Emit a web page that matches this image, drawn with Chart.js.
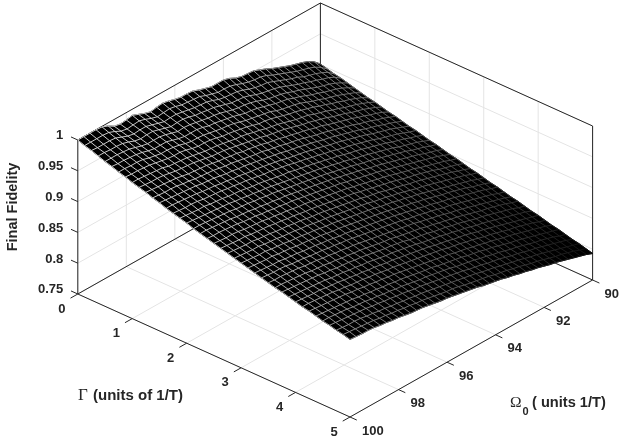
<!DOCTYPE html>
<html><head><meta charset="utf-8">
<style>html,body{margin:0;padding:0;background:#fff}canvas{display:block}</style>
<script src="https://cdn.jsdelivr.net/npm/chart.js@4"></script></head>
<body><canvas id="c" width="623" height="439"></canvas>
<script>
const gammaTicks=[0,1,2,3,4,5];
const omegaTicks=[100,98,96,94,92,90];
const fidelityTicks=[0.75,0.8,0.85,0.9,0.95,1];
const fidelityTickLabels=['0.75','0.8','0.85','0.9','0.95','1'];
const gammaGrid=[0,0.125,0.25,0.375,0.5,0.625,0.75,0.875,1,1.125,1.25,1.375,1.5,1.625,1.75,1.875,2,2.125,2.25,2.375,2.5,2.625,2.75,2.875,3,3.125,3.25,3.375,3.5,3.625,3.75,3.875,4,4.125,4.25,4.375,4.5,4.625,4.75,4.875,5];
const omegaGrid=[100,99.75,99.5,99.25,99,98.75,98.5,98.25,98,97.75,97.5,97.25,97,96.75,96.5,96.25,96,95.75,95.5,95.25,95,94.75,94.5,94.25,94,93.75,93.5,93.25,93,92.75,92.5,92.25,92,91.75,91.5,91.25,91,90.75,90.5,90.25,90];
// final fidelity: one row per gammaGrid value, one column per omegaGrid value
const fidelity=[
[1,1,1,1,0.999,0.995,0.989,0.987,0.988,0.990,0.986,0.982,0.979,0.981,0.982,0.980,0.977,0.975,0.975,0.974,0.970,0.967,0.964,0.964,0.964,0.961,0.956,0.953,0.952,0.951,0.947,0.943,0.938,0.934,0.930,0.926,0.923,0.920,0.916,0.910,0.901],
[0.996,0.996,0.996,0.996,0.995,0.991,0.986,0.984,0.985,0.986,0.983,0.979,0.976,0.977,0.978,0.976,0.973,0.972,0.971,0.970,0.966,0.963,0.960,0.960,0.959,0.956,0.952,0.949,0.947,0.946,0.943,0.938,0.934,0.930,0.926,0.922,0.919,0.916,0.912,0.906,0.898],
[0.993,0.992,0.992,0.992,0.991,0.987,0.983,0.981,0.982,0.982,0.979,0.976,0.973,0.974,0.974,0.972,0.970,0.968,0.967,0.966,0.963,0.959,0.957,0.956,0.955,0.952,0.948,0.945,0.943,0.942,0.938,0.934,0.930,0.926,0.923,0.918,0.915,0.912,0.908,0.903,0.895],
[0.989,0.989,0.988,0.988,0.987,0.984,0.980,0.978,0.979,0.979,0.976,0.973,0.970,0.971,0.971,0.969,0.966,0.965,0.963,0.962,0.959,0.956,0.953,0.952,0.951,0.948,0.944,0.941,0.939,0.937,0.934,0.930,0.926,0.922,0.919,0.915,0.912,0.908,0.905,0.900,0.893],
[0.985,0.985,0.985,0.984,0.983,0.980,0.977,0.975,0.975,0.975,0.973,0.970,0.967,0.968,0.967,0.965,0.963,0.961,0.960,0.958,0.955,0.952,0.950,0.949,0.947,0.944,0.940,0.937,0.935,0.933,0.930,0.926,0.923,0.919,0.915,0.911,0.908,0.905,0.901,0.896,0.890],
[0.982,0.981,0.981,0.980,0.979,0.977,0.974,0.972,0.972,0.972,0.969,0.966,0.964,0.964,0.964,0.962,0.959,0.958,0.956,0.954,0.952,0.949,0.946,0.945,0.943,0.940,0.937,0.934,0.932,0.930,0.926,0.923,0.919,0.915,0.912,0.908,0.905,0.902,0.898,0.893,0.887],
[0.978,0.978,0.977,0.977,0.976,0.973,0.971,0.969,0.969,0.968,0.966,0.963,0.961,0.961,0.960,0.958,0.956,0.954,0.953,0.951,0.948,0.945,0.943,0.941,0.939,0.937,0.933,0.930,0.928,0.926,0.923,0.919,0.915,0.912,0.908,0.905,0.902,0.898,0.894,0.890,0.884],
[0.975,0.974,0.974,0.973,0.972,0.970,0.968,0.966,0.965,0.965,0.963,0.960,0.958,0.958,0.957,0.955,0.952,0.951,0.949,0.947,0.945,0.942,0.939,0.938,0.936,0.933,0.930,0.927,0.925,0.922,0.919,0.916,0.912,0.909,0.905,0.902,0.898,0.895,0.891,0.887,0.881],
[0.971,0.971,0.970,0.969,0.968,0.967,0.964,0.963,0.962,0.961,0.959,0.957,0.955,0.954,0.953,0.951,0.949,0.947,0.946,0.944,0.941,0.939,0.936,0.934,0.932,0.929,0.926,0.923,0.921,0.919,0.915,0.912,0.909,0.905,0.902,0.898,0.895,0.892,0.888,0.884,0.879],
[0.968,0.967,0.966,0.966,0.965,0.963,0.961,0.960,0.959,0.958,0.956,0.954,0.952,0.951,0.950,0.948,0.946,0.944,0.942,0.940,0.938,0.935,0.933,0.931,0.929,0.926,0.923,0.920,0.918,0.915,0.912,0.909,0.905,0.902,0.899,0.895,0.892,0.889,0.885,0.881,0.876],
[0.965,0.964,0.963,0.962,0.961,0.960,0.958,0.956,0.955,0.954,0.953,0.951,0.949,0.948,0.946,0.945,0.942,0.941,0.939,0.937,0.934,0.932,0.930,0.927,0.925,0.922,0.920,0.917,0.914,0.912,0.908,0.905,0.902,0.899,0.896,0.892,0.889,0.885,0.882,0.878,0.873],
[0.961,0.960,0.959,0.959,0.958,0.956,0.955,0.953,0.952,0.951,0.950,0.948,0.946,0.945,0.943,0.941,0.939,0.937,0.936,0.933,0.931,0.929,0.926,0.924,0.922,0.919,0.916,0.913,0.911,0.908,0.905,0.902,0.899,0.896,0.892,0.889,0.886,0.882,0.879,0.875,0.871],
[0.958,0.957,0.956,0.955,0.954,0.953,0.952,0.950,0.949,0.948,0.946,0.944,0.943,0.941,0.940,0.938,0.936,0.934,0.932,0.930,0.928,0.925,0.923,0.921,0.918,0.916,0.913,0.910,0.908,0.905,0.902,0.899,0.896,0.893,0.889,0.886,0.883,0.879,0.876,0.872,0.868],
[0.954,0.954,0.953,0.952,0.951,0.950,0.948,0.947,0.946,0.944,0.943,0.941,0.940,0.938,0.936,0.935,0.933,0.931,0.929,0.927,0.924,0.922,0.920,0.918,0.915,0.913,0.910,0.907,0.905,0.902,0.899,0.896,0.893,0.890,0.886,0.883,0.880,0.877,0.873,0.869,0.865],
[0.951,0.950,0.949,0.949,0.948,0.946,0.945,0.944,0.943,0.941,0.940,0.938,0.937,0.935,0.933,0.931,0.930,0.928,0.926,0.924,0.921,0.919,0.917,0.914,0.912,0.909,0.907,0.904,0.901,0.899,0.896,0.893,0.890,0.887,0.883,0.880,0.877,0.874,0.870,0.866,0.863],
[0.948,0.947,0.946,0.945,0.945,0.943,0.942,0.941,0.939,0.938,0.937,0.935,0.933,0.932,0.930,0.928,0.926,0.924,0.923,0.920,0.918,0.916,0.914,0.911,0.909,0.906,0.904,0.901,0.898,0.896,0.893,0.890,0.887,0.884,0.881,0.877,0.874,0.871,0.867,0.864,0.860],
[0.945,0.944,0.943,0.942,0.941,0.940,0.939,0.938,0.936,0.935,0.933,0.932,0.930,0.929,0.927,0.925,0.923,0.921,0.919,0.917,0.915,0.913,0.911,0.908,0.906,0.903,0.901,0.898,0.895,0.893,0.890,0.887,0.884,0.881,0.878,0.874,0.871,0.868,0.865,0.861,0.857],
[0.941,0.941,0.940,0.939,0.938,0.937,0.936,0.934,0.933,0.932,0.930,0.929,0.927,0.926,0.924,0.922,0.920,0.918,0.916,0.914,0.912,0.910,0.908,0.905,0.903,0.900,0.898,0.895,0.892,0.890,0.887,0.884,0.881,0.878,0.875,0.872,0.868,0.865,0.862,0.858,0.855],
[0.938,0.938,0.937,0.936,0.935,0.934,0.932,0.931,0.930,0.928,0.927,0.925,0.924,0.922,0.921,0.919,0.917,0.915,0.913,0.911,0.909,0.907,0.905,0.902,0.900,0.897,0.895,0.892,0.889,0.887,0.884,0.881,0.878,0.875,0.872,0.869,0.866,0.862,0.859,0.856,0.852],
[0.935,0.934,0.934,0.933,0.932,0.931,0.929,0.928,0.927,0.925,0.924,0.922,0.921,0.919,0.918,0.916,0.914,0.912,0.910,0.908,0.906,0.904,0.902,0.899,0.897,0.894,0.892,0.889,0.887,0.884,0.881,0.878,0.875,0.872,0.869,0.866,0.863,0.860,0.857,0.853,0.849],
[0.932,0.931,0.930,0.930,0.929,0.927,0.926,0.925,0.924,0.922,0.921,0.919,0.918,0.916,0.914,0.913,0.911,0.909,0.907,0.905,0.903,0.901,0.899,0.896,0.894,0.891,0.889,0.886,0.884,0.881,0.878,0.875,0.872,0.870,0.866,0.863,0.860,0.857,0.854,0.850,0.847],
[0.929,0.928,0.927,0.926,0.926,0.924,0.923,0.922,0.921,0.919,0.918,0.916,0.915,0.913,0.911,0.910,0.908,0.906,0.904,0.902,0.900,0.898,0.896,0.893,0.891,0.888,0.886,0.883,0.881,0.878,0.875,0.872,0.870,0.867,0.864,0.861,0.857,0.854,0.851,0.848,0.844],
[0.926,0.925,0.924,0.923,0.923,0.921,0.920,0.919,0.917,0.916,0.915,0.913,0.912,0.910,0.908,0.907,0.905,0.903,0.901,0.899,0.897,0.895,0.893,0.890,0.888,0.886,0.883,0.880,0.878,0.875,0.872,0.870,0.867,0.864,0.861,0.858,0.855,0.852,0.848,0.845,0.841],
[0.923,0.922,0.921,0.920,0.920,0.918,0.917,0.916,0.914,0.913,0.912,0.910,0.909,0.907,0.905,0.904,0.902,0.900,0.898,0.896,0.894,0.892,0.890,0.887,0.885,0.883,0.880,0.878,0.875,0.872,0.869,0.867,0.864,0.861,0.858,0.855,0.852,0.849,0.846,0.842,0.839],
[0.920,0.919,0.918,0.917,0.917,0.915,0.914,0.913,0.911,0.910,0.909,0.907,0.906,0.904,0.902,0.901,0.899,0.897,0.895,0.893,0.891,0.889,0.887,0.884,0.882,0.880,0.877,0.875,0.872,0.870,0.867,0.864,0.861,0.858,0.855,0.852,0.849,0.846,0.843,0.839,0.836],
[0.917,0.916,0.915,0.914,0.914,0.912,0.911,0.910,0.908,0.907,0.906,0.904,0.903,0.901,0.899,0.898,0.896,0.894,0.892,0.890,0.888,0.886,0.884,0.882,0.879,0.877,0.874,0.872,0.869,0.867,0.864,0.861,0.858,0.856,0.853,0.850,0.847,0.843,0.840,0.837,0.833],
[0.914,0.913,0.912,0.911,0.911,0.909,0.908,0.907,0.905,0.904,0.903,0.901,0.900,0.898,0.896,0.895,0.893,0.891,0.889,0.887,0.885,0.883,0.881,0.879,0.876,0.874,0.871,0.869,0.866,0.864,0.861,0.858,0.856,0.853,0.850,0.847,0.844,0.841,0.838,0.834,0.831],
[0.911,0.910,0.909,0.909,0.908,0.906,0.905,0.904,0.902,0.901,0.900,0.898,0.897,0.895,0.894,0.892,0.890,0.888,0.886,0.884,0.882,0.880,0.878,0.876,0.873,0.871,0.869,0.866,0.864,0.861,0.858,0.856,0.853,0.850,0.847,0.844,0.841,0.838,0.835,0.831,0.828],
[0.908,0.907,0.907,0.906,0.905,0.904,0.902,0.901,0.900,0.898,0.897,0.895,0.894,0.892,0.891,0.889,0.887,0.885,0.883,0.881,0.879,0.877,0.875,0.873,0.871,0.868,0.866,0.863,0.861,0.858,0.855,0.853,0.850,0.847,0.844,0.841,0.838,0.835,0.832,0.829,0.825],
[0.905,0.905,0.904,0.903,0.902,0.901,0.899,0.898,0.897,0.895,0.894,0.892,0.891,0.889,0.888,0.886,0.884,0.882,0.880,0.879,0.876,0.874,0.872,0.870,0.868,0.865,0.863,0.860,0.858,0.855,0.853,0.850,0.847,0.844,0.841,0.839,0.836,0.833,0.830,0.826,0.823],
[0.903,0.902,0.901,0.900,0.899,0.898,0.897,0.895,0.894,0.892,0.891,0.890,0.888,0.887,0.885,0.883,0.881,0.879,0.878,0.876,0.874,0.871,0.869,0.867,0.865,0.862,0.860,0.858,0.855,0.853,0.850,0.847,0.844,0.842,0.839,0.836,0.833,0.830,0.827,0.823,0.820],
[0.900,0.899,0.898,0.897,0.896,0.895,0.894,0.892,0.891,0.890,0.888,0.887,0.885,0.884,0.882,0.880,0.878,0.877,0.875,0.873,0.871,0.869,0.866,0.864,0.862,0.860,0.857,0.855,0.852,0.850,0.847,0.844,0.842,0.839,0.836,0.833,0.830,0.827,0.824,0.821,0.817],
[0.897,0.896,0.895,0.894,0.894,0.892,0.891,0.890,0.888,0.887,0.885,0.884,0.882,0.881,0.879,0.877,0.876,0.874,0.872,0.870,0.868,0.866,0.864,0.861,0.859,0.857,0.854,0.852,0.850,0.847,0.844,0.842,0.839,0.836,0.833,0.830,0.827,0.824,0.821,0.818,0.815],
[0.894,0.894,0.893,0.892,0.891,0.890,0.888,0.887,0.885,0.884,0.883,0.881,0.880,0.878,0.876,0.875,0.873,0.871,0.869,0.867,0.865,0.863,0.861,0.859,0.856,0.854,0.852,0.849,0.847,0.844,0.841,0.839,0.836,0.833,0.830,0.828,0.825,0.822,0.819,0.815,0.812],
[0.892,0.891,0.890,0.889,0.888,0.887,0.886,0.884,0.883,0.881,0.880,0.878,0.877,0.875,0.874,0.872,0.870,0.868,0.866,0.864,0.862,0.860,0.858,0.856,0.853,0.851,0.849,0.846,0.844,0.841,0.839,0.836,0.833,0.831,0.828,0.825,0.822,0.819,0.816,0.813,0.809],
[0.889,0.888,0.887,0.886,0.885,0.884,0.883,0.881,0.880,0.878,0.877,0.875,0.874,0.872,0.871,0.869,0.867,0.865,0.863,0.862,0.859,0.857,0.855,0.853,0.851,0.848,0.846,0.844,0.841,0.839,0.836,0.833,0.830,0.828,0.825,0.822,0.819,0.816,0.813,0.810,0.807],
[0.886,0.886,0.885,0.884,0.883,0.881,0.880,0.879,0.877,0.876,0.874,0.873,0.871,0.870,0.868,0.866,0.864,0.863,0.861,0.859,0.857,0.855,0.852,0.850,0.848,0.846,0.843,0.841,0.838,0.836,0.833,0.830,0.828,0.825,0.822,0.819,0.817,0.814,0.811,0.807,0.804],
[0.884,0.883,0.882,0.881,0.880,0.879,0.878,0.876,0.875,0.873,0.872,0.870,0.869,0.867,0.865,0.864,0.862,0.860,0.858,0.856,0.854,0.852,0.850,0.847,0.845,0.843,0.840,0.838,0.836,0.833,0.830,0.828,0.825,0.822,0.820,0.817,0.814,0.811,0.808,0.805,0.801],
[0.881,0.880,0.879,0.879,0.878,0.876,0.875,0.873,0.872,0.870,0.869,0.867,0.866,0.864,0.863,0.861,0.859,0.857,0.855,0.853,0.851,0.849,0.847,0.845,0.842,0.840,0.838,0.835,0.833,0.830,0.828,0.825,0.822,0.820,0.817,0.814,0.811,0.808,0.805,0.802,0.799],
[0.879,0.878,0.877,0.876,0.875,0.874,0.872,0.871,0.869,0.868,0.866,0.865,0.863,0.862,0.860,0.858,0.856,0.854,0.853,0.851,0.848,0.846,0.844,0.842,0.840,0.837,0.835,0.833,0.830,0.828,0.825,0.822,0.820,0.817,0.814,0.811,0.809,0.806,0.803,0.799,0.796],
[0.876,0.875,0.874,0.874,0.873,0.871,0.870,0.868,0.867,0.865,0.863,0.862,0.861,0.859,0.857,0.855,0.854,0.852,0.850,0.848,0.846,0.844,0.841,0.839,0.837,0.835,0.832,0.830,0.827,0.825,0.822,0.820,0.817,0.814,0.812,0.809,0.806,0.803,0.800,0.797,0.793]
];
const meshShadeStops=[[90,230],[200,212],[280,180],[330,145],[400,112],[470,80],[530,45],[590,10]];

// view of the 3D box: (gamma, omega, fidelity) -> 2D chart coordinates
function view(g,o,f){
  const a=g/5,b=(100-o)/10,c=(f-0.75)/0.25;
  return {x:77.8+272.2*a+242.6*b, y:294+123*a-137*b-154*c};
}
function shade(px){
  const s=meshShadeStops;
  let v=s[s.length-1][1];
  if(px<=s[0][0]) v=s[0][1];
  else for(let i=1;i<s.length;i++){ if(px<=s[i][0]){const k=(px-s[i-1][0])/(s[i][0]-s[i-1][0]);v=s[i-1][1]+k*(s[i][1]-s[i-1][1]);break;} }
  v=Math.round(v);return `rgb(${v},${v},${v})`;
}
const datasets=[];
const GRID='#e4e4e4',AXIS='#262626';
function stroke(points,color,order,width){
  datasets.push({data:points,showLine:true,pointRadius:0,borderColor:color,borderWidth:width||1,order:order,fill:false,tension:0});
}
function seg(p,q,color,order){stroke([view(...p),view(...q)],color,order);}
const G0=gammaTicks[0],G1=gammaTicks[gammaTicks.length-1],O0=omegaTicks[0],O1=omegaTicks[omegaTicks.length-1],F0=fidelityTicks[0],F1=fidelityTicks[fidelityTicks.length-1];
// grid on floor and the two back walls
gammaTicks.forEach(g=>{ seg([g,O0,F0],[g,O1,F0],GRID,5); seg([g,O1,F0],[g,O1,F1],GRID,5); });
omegaTicks.forEach(o=>{ seg([G0,o,F0],[G1,o,F0],GRID,5); seg([G0,o,F0],[G0,o,F1],GRID,5); });
fidelityTicks.forEach(f=>{ seg([G0,O0,f],[G0,O1,f],GRID,5); seg([G0,O1,f],[G1,O1,f],GRID,5); });
// box edges
[[[G0,O0,F0],[G1,O0,F0]],[[G1,O0,F0],[G1,O1,F0]],[[G0,O0,F0],[G0,O1,F0]],[[G0,O1,F0],[G1,O1,F0]],
 [[G0,O0,F0],[G0,O0,F1]],[[G0,O1,F0],[G0,O1,F1]],[[G1,O1,F0],[G1,O1,F1]],[[G0,O0,F1],[G0,O1,F1]],[[G0,O1,F1],[G1,O1,F1]]]
 .forEach(e=>seg(e[0],e[1],AXIS,4));
// tick marks
gammaTicks.forEach(g=>seg([g,O0,F0],[g,O0+0.3,F0],AXIS,4));
omegaTicks.forEach(o=>seg([G1,o,F0],[G1+0.125,o,F0],AXIS,4));
fidelityTicks.forEach(f=>seg([G0,O0,f],[G0-0.125,O0,f],AXIS,4));
// black face of the surface, from its outline
const outline=[];
omegaGrid.forEach((o,j)=>outline.push(view(gammaGrid[0],o,fidelity[0][j])));
gammaGrid.forEach((g,i)=>outline.push(view(g,omegaGrid[omegaGrid.length-1],fidelity[i][omegaGrid.length-1])));
for(let j=omegaGrid.length-1;j>=0;j--)outline.push(view(gammaGrid[gammaGrid.length-1],omegaGrid[j],fidelity[gammaGrid.length-1][j]));
for(let i=gammaGrid.length-1;i>=0;i--)outline.push(view(gammaGrid[i],omegaGrid[0],fidelity[i][0]));
datasets.push({data:outline,showLine:true,pointRadius:0,borderColor:'#000',backgroundColor:'#000',borderWidth:1,order:3,fill:false,surfaceFace:true});
// mesh lines
const meshSegment={borderColor:c=>{const x=(c.p0.x+c.p1.x)/2,y=(c.p0.y+c.p1.y)/2;return shade(x-0.25*(y-200));}};
gammaGrid.forEach((g,i)=>datasets.push({data:omegaGrid.map((o,j)=>view(g,o,fidelity[i][j])),showLine:true,pointRadius:0,borderColor:'#888',borderWidth:0.9,order:1,fill:false,segment:meshSegment}));
omegaGrid.forEach((o,j)=>datasets.push({data:gammaGrid.map((g,i)=>view(g,o,fidelity[i][j])),showLine:true,pointRadius:0,borderColor:'#888',borderWidth:0.9,order:1,fill:false,segment:meshSegment}));

const SANS='"Liberation Sans"',SERIF='"Liberation Serif"';
const facePlugin={id:'face',beforeDatasetDraw(chart,args){
  const ds=chart.data.datasets[args.index];
  if(!ds.surfaceFace)return;
  const pts=args.meta.data,ctx=chart.ctx;
  ctx.save();ctx.beginPath();
  pts.forEach((p,i)=>i?ctx.lineTo(p.x,p.y):ctx.moveTo(p.x,p.y));
  ctx.closePath();ctx.fillStyle='#000';ctx.fill();ctx.restore();
}};
const textPlugin={id:'labels',afterDraw(chart){
  const ctx=chart.ctx,X=chart.scales.x,Y=chart.scales.y;
  const at=(g,o,f)=>{const p=view(g,o,f);return{x:X.getPixelForValue(p.x),y:Y.getPixelForValue(p.y)};};
  ctx.save();ctx.fillStyle='#262626';ctx.textBaseline='middle';
  ctx.font='bold 13px '+SANS;
  ctx.textAlign='right';
  fidelityTicks.forEach((f,i)=>{const p=at(G0,O0,f);ctx.fillText(fidelityTickLabels[i],p.x-14.5,p.y-4.2);});
  ctx.textAlign='center';
  gammaTicks.forEach(g=>{const p=at(g,O0,F0);ctx.fillText(String(g),p.x-16,p.y+15);});
  ctx.textAlign='left';
  omegaTicks.forEach(o=>{const p=at(G1,o,F0);ctx.fillText(String(o),p.x+12,p.y+14);});
  // axis titles
  ctx.fillStyle='#262626';
  ctx.save();ctx.translate(12.5,207);ctx.rotate(-Math.PI/2);ctx.textAlign='center';ctx.font='bold 14.5px '+SANS;ctx.fillText('Final Fidelity',0,0);ctx.restore();
  ctx.textAlign='left';
  ctx.font='17px '+SERIF;ctx.fillText('\u0393',78,396);
  ctx.font='bold 15px '+SANS;ctx.fillText('(units of 1/T)',93,396);
  ctx.font='15.5px '+SERIF;ctx.fillText('\u03A9',510,402.5);
  ctx.font='bold 11px '+SANS;ctx.fillText('0',522.5,411.5);
  ctx.font='bold 14.6px '+SANS;ctx.fillText('( units 1/T)',532,402.5);
  ctx.restore();
}};
new Chart(document.getElementById('c'),{
  type:'scatter',
  data:{datasets},
  plugins:[facePlugin,textPlugin],
  options:{responsive:false,animation:false,events:[],
    layout:{padding:0},
    plugins:{legend:{display:false},tooltip:{enabled:false},title:{display:false}},
    scales:{x:{type:'linear',min:0,max:623,display:false},y:{type:'linear',min:0,max:439,reverse:true,display:false}}}
});
</script></body></html>
